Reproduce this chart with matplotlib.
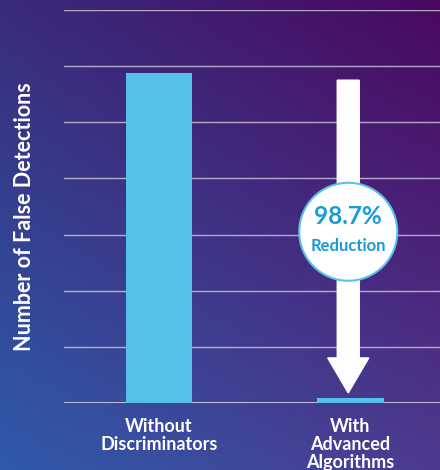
import numpy as np
import matplotlib.pyplot as plt
from matplotlib.patches import Ellipse

categories = ["Without\nDiscriminators", "With\nAdvanced\nAlgorithms"]
values = [5.88, 0.09]
reduction_label = "98.7%"
grid_levels = [1, 2, 3, 4, 5, 6, 7]

plt.rcParams['font.family'] = ['Lato', 'DejaVu Sans']

fig = plt.figure(figsize=(4.4, 4.7), dpi=100)

# gradient background
bg = fig.add_axes([0, 0, 1, 1])
tl = np.array([0x39, 0x2b, 0x7c]) / 255
tr = np.array([0x4a, 0x08, 0x60]) / 255
bl = np.array([0x2e, 0x5b, 0xa9]) / 255
br = np.array([0x4d, 0x3a, 0x90]) / 255
u = np.linspace(0, 1, 200)[None, :, None]
v = np.linspace(0, 1, 200)[:, None, None]
img = (1 - v) * ((1 - u) * tl + u * tr) + v * ((1 - u) * bl + u * br)
bg.imshow(img, aspect='auto', extent=[0, 1, 0, 1])
bg.axis('off')

ax = fig.add_axes([64 / 440, (470 - 403) / 470, 376 / 440, 393 / 470])
ax.patch.set_alpha(0)
ax.set_xlim(-0.497, 1.47)
ax.set_ylim(0, 7)

for g in grid_levels:
    ax.axhline(g, color='#c8c0d8', lw=1, alpha=0.85, zorder=1)
ax.axhline(0, color='#d8d8e8', lw=1.2, zorder=1)

x = np.arange(len(categories))
ax.bar(x, values, width=0.35, color='#55c0e8', zorder=2)

# arrow and reduction badge
ax.arrow(0.99, 5.75, 0, -(5.75 - 0.18), width=0.115, head_width=0.215,
         head_length=0.623, length_includes_head=True, color='white', zorder=3)
ax.add_patch(Ellipse((0.99, 3.05), 2 * 49 / 191, 2 * 49 / 56.14,
                     facecolor='white', edgecolor='#5bc0e8', lw=1.5, zorder=4))
ax.text(0.99, 3.32, reduction_label, ha='center', va='center', fontsize=17.5,
        fontweight='bold', color='#1a9ad6', zorder=5)
ax.text(0.99, 2.8, "Reduction", ha='center', va='center', fontsize=12,
        fontweight='bold', color='#1a9ad6', zorder=5)

ax.set_xticks(x)
ax.set_xticklabels(categories, color='white', fontsize=13, fontweight='bold',
                   linespacing=1.05)
ax.tick_params(axis='x', length=0, pad=11)
ax.set_yticks([])
for s in ax.spines.values():
    s.set_visible(False)

fig.text(25 / 440, 1 - 217 / 470, "Number of False Detections", rotation=90,
         ha='center', va='center', color='white', fontsize=15.5, fontweight='bold')

fig.savefig('out.png', dpi=100)
